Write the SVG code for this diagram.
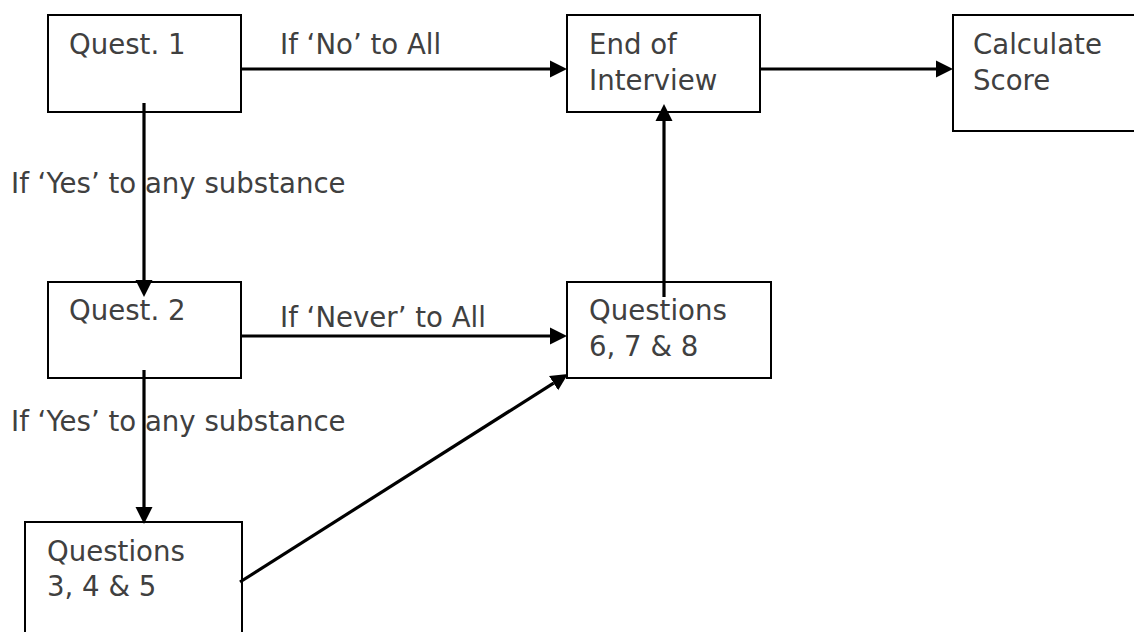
<svg xmlns="http://www.w3.org/2000/svg" width="1134" height="632" viewBox="0 0 1134 632">
<style>
.box{fill:#fff;stroke:#000;stroke-width:2}
.t{font-family:"DejaVu Sans","Liberation Sans",sans-serif;font-size:27.6px;fill:#404040}
.c{stroke:#000;stroke-width:3.2;fill:none}
</style>
<defs>
<marker id="ah" markerUnits="userSpaceOnUse" markerWidth="18" markerHeight="18" refX="0" refY="9" orient="auto" viewBox="0 0 18 18">
<path d="M0,0.5 L17,9 L0,17.5 Z" fill="#000"/>
</marker>
</defs>
<rect width="1134" height="632" fill="#fff"/>
<g id="quest1"><rect class="box" x="48" y="15" width="193" height="97"/><text class="t" x="69" y="54">Quest. 1</text></g>
<g id="end"><rect class="box" x="567" y="15" width="193" height="97"/><text class="t" x="589" y="54">End of</text><text class="t" x="589" y="90">Interview</text></g>
<g id="calc"><rect class="box" x="953" y="15" width="200" height="116"/><text class="t" x="973" y="54">Calculate</text><text class="t" x="973" y="90">Score</text></g>
<g id="quest2"><rect class="box" x="48" y="282" width="193" height="96"/><text class="t" x="69" y="320">Quest. 2</text></g>
<g id="q678"><rect class="box" x="567" y="282" width="204" height="96"/><text class="t" x="589" y="320">Questions</text><text class="t" x="589" y="356">6, 7 &amp; 8</text></g>
<g id="q345"><rect class="box" x="25" y="522" width="217" height="130"/><text class="t" x="47" y="561">Questions</text><text class="t" x="47" y="596">3, 4 &amp; 5</text></g>
<g id="connectors">
<line class="c" x1="241" y1="69" x2="550" y2="69" marker-end="url(#ah)"/>
<line class="c" x1="760" y1="69" x2="936" y2="69" marker-end="url(#ah)"/>
<line class="c" x1="144" y1="103" x2="144" y2="280" marker-end="url(#ah)"/>
<line class="c" x1="664" y1="297" x2="664" y2="121" marker-end="url(#ah)"/>
<line class="c" x1="241" y1="336" x2="550" y2="336" marker-end="url(#ah)"/>
<line class="c" x1="144" y1="370" x2="144" y2="507" marker-end="url(#ah)"/>
<line class="c" x1="240" y1="582" x2="553.6" y2="383.1" marker-end="url(#ah)"/>
</g>
<g id="labels">
<text class="t" x="280" y="54">If ‘No’ to All</text>
<text class="t" x="280" y="327">If ‘Never’ to All</text>
<text class="t" x="11" y="193">If ‘Yes’ to any substance</text>
<text class="t" x="11" y="431">If ‘Yes’ to any substance</text>
</g>
</svg>
